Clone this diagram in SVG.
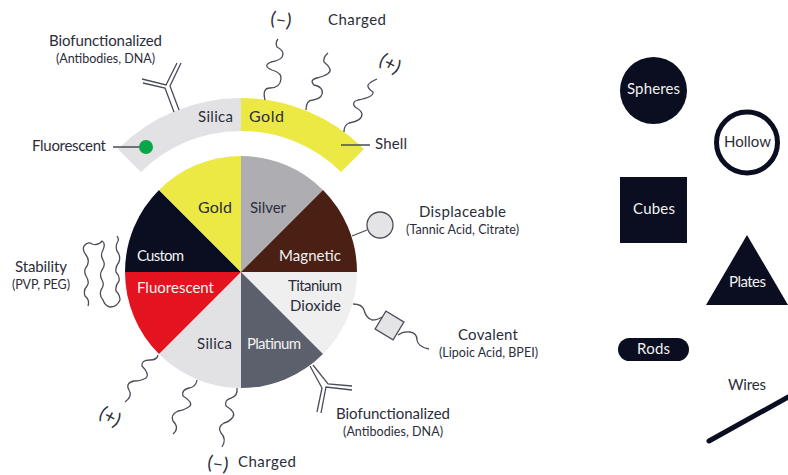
<svg xmlns="http://www.w3.org/2000/svg" width="788" height="475" viewBox="0 0 788 475">
<style>
text{font-family:"Lato","Liberation Sans",sans-serif;fill:#2b2d3a;font-size:15px}
.s{font-size:12.5px}
.w{fill:#f1f1f2}
.c{text-anchor:middle}
.q{font-size:19px}
.l{fill:none;stroke:#4a4c58;stroke-width:1.3}
.m{fill:#e4e4e6;stroke:#4a4c58;stroke-width:1.3}
.d{fill:#0a0e20}
</style>
<rect width="788" height="475" fill="#fff"/>
<g id="shell">
<path d="M118 149A174 174 0 0 1 241 98V131A141 141 0 0 0 141 172Z" fill="#e2e2e4"/>
<path d="M241 98A174 174 0 0 1 364 149L341 172A141 141 0 0 0 241 131Z" fill="#ece945"/>
<text x="198" y="122" textLength="35">Silica</text>
<text x="249" y="122" style="font-size:16px" textLength="35">Gold</text>
</g>
<g id="wheel">
<path d="M241 272V156A116 116 0 0 1 323 190Z" fill="#aeadb2"/>
<path d="M241 272L323 190A116 116 0 0 1 357 272Z" fill="#4a2015"/>
<path d="M241 272H357A116 116 0 0 1 323 354Z" fill="#efeff0"/>
<path d="M241 272L323 354A116 116 0 0 1 241 388Z" fill="#5c5f6c"/>
<path d="M241 272V388A116 116 0 0 1 159 354Z" fill="#e2e2e4"/>
<path d="M241 272L159 354A116 116 0 0 1 125 272Z" fill="#e3141f"/>
<path d="M241 272H125A116 116 0 0 1 159 190Z" fill="#0a0e20"/>
<path d="M241 272L159 190A116 116 0 0 1 241 156Z" fill="#ece945"/>
<text x="198" y="213" style="font-size:16px" textLength="34">Gold</text>
<text x="250" y="213" textLength="36">Silver</text>
<text x="279" y="261" textLength="62" class="w">Magnetic</text>
<text x="137" y="261" textLength="47" class="w">Custom</text>
<text x="137" y="293" textLength="77" class="w">Fluorescent</text>
<text x="288" y="291" textLength="54">Titanium</text>
<text x="290" y="311" textLength="51">Dioxide</text>
<text x="197" y="349" textLength="35">Silica</text>
<text x="247" y="349" textLength="54" class="w">Platinum</text>
</g>
<g id="connectors">
<path class="l" d="M179 110L170 86L181 63M174 112L165 88L143 83M142 79L166 85L177 63"/>
<path class="l" d="M265 100Q262 88 270 88Q280 88 281 79Q282 73 272 70Q262 66 271 62Q283 60 283 54Q283 50 277 47Q275 43 278 39"/>
<path class="l" d="M306 110Q306 100 313 100Q324 98 322 90Q320 86 314 85Q309 80 317 78Q332 74 330 69Q328 65 324 62Q323 57 328 53"/>
<path class="l" d="M344 132Q344 125 349 123Q362 121 362 114Q361 110 355 107Q351 102 358 100Q374 97 373 92Q367 88 368 85Q370 82 377 79"/>
<path class="l" d="M113 147H145M341 145H370"/>
<path class="l" d="M158 355Q157 360 150 360Q141 360 142 366Q150 374 146 378Q141 381 134 381Q125 383 129 390Q133 396 125 402"/>
<path class="l" d="M197 380Q196 387 189 388Q181 390 183 396Q193 402 190 406Q185 410 178 411Q170 415 173 421Q180 428 173 434"/>
<path class="l" d="M237 388Q238 396 231 398Q224 400 226 406Q236 412 233 417Q229 422 224 423Q217 427 221 433Q227 439 222 447"/>
<path class="l" d="M313 365L328 384L352 386M310 366L322 388L317 412M352 390L326 387L321 413"/>
<line class="l" x1="352" y1="236" x2="367" y2="230"/>
<path class="l" d="M353 304Q362 304 364 310Q366 318 372 320Q378 320 382 317M398 335Q403 331 410 332Q417 333 417 340Q418 347 429 349"/>
<path class="l" d="M88 306Q90 300 85 296Q83 290 87 286Q90 282 86 276Q83 270 87 266Q90 260 86 255Q82 250 84 246Q88 241 92 244Q98 246 102 241Q106 243 103 250Q100 255 103 260Q106 265 102 270Q99 275 102 280Q105 285 101 290Q99 296 103 300Q105 306 110 307Q117 307 120 300Q120 295 116 291Q115 286 119 281Q120 276 116 272Q115 267 119 262Q121 256 117 251Q115 246 118 241Q119 239 117 236"/>
</g>
<g id="fluorescent-dot"><circle cx="146" cy="147" r="7" fill="#0aa64a"/></g>
<g id="displaceable-node"><circle cx="380" cy="225" r="13" class="m"/></g>
<g id="covalent-node"><rect x="-10.5" y="-10.5" width="21" height="21" class="m" transform="translate(389.5 325.5) rotate(31)"/></g>
<g id="labels">
<text x="49" y="46" textLength="113">Biofunctionalized</text>
<text x="56" y="63" textLength="99" class="s">(Antibodies, DNA)</text>
<text x="328" y="25" textLength="58">Charged</text>
<text x="281" y="26" class="c q" transform="rotate(8 281 20)">(–)</text>
<text x="390" y="70" class="c q" transform="rotate(28 390 64)">(+)</text>
<text x="32" y="151" textLength="74">Fluorescent</text>
<text x="375" y="149" textLength="32">Shell</text>
<text x="419" y="217" textLength="87">Displaceable</text>
<text x="406" y="234" textLength="113" class="s">(Tannic Acid, Citrate)</text>
<text x="458" y="340" textLength="60">Covalent</text>
<text x="439" y="357" textLength="99" class="s">(Lipoic Acid, BPEI)</text>
<text x="15" y="272" textLength="52">Stability</text>
<text x="12" y="289" textLength="58" class="s">(PVP, PEG)</text>
<text x="336" y="419" textLength="114">Biofunctionalized</text>
<text x="343" y="436" textLength="100" class="s">(Antibodies, DNA)</text>
<text x="238" y="467" textLength="58">Charged</text>
<text x="218" y="470" class="c q" transform="rotate(8 218 464)">(–)</text>
<text x="110" y="423" class="c q" transform="rotate(28 110 417)">(+)</text>
</g>
<g id="spheres"><circle class="d" cx="653.5" cy="90.5" r="33.5"/><text x="627" y="94" textLength="53" class="w">Spheres</text></g>
<g id="hollow"><circle cx="747" cy="142.5" r="30.5" fill="#fff" stroke="#0a0e20" stroke-width="5"/><text x="724" y="147" textLength="47">Hollow</text></g>
<g id="cubes"><rect class="d" x="620" y="177" width="67" height="66"/><text x="633" y="214" textLength="42" class="w">Cubes</text></g>
<g id="plates"><polygon class="d" points="747,235 788,305 706,305"/><text x="729" y="287" textLength="37" class="w">Plates</text></g>
<g id="rods"><rect class="d" x="618" y="338" width="71" height="23" rx="11.5"/><text x="637" y="354" textLength="33" class="w">Rods</text></g>
<g id="wires"><text x="728" y="390" textLength="38">Wires</text><line x1="709" y1="441" x2="790" y2="396" stroke="#0a0e20" stroke-width="5" stroke-linecap="round"/></g>
</svg>
